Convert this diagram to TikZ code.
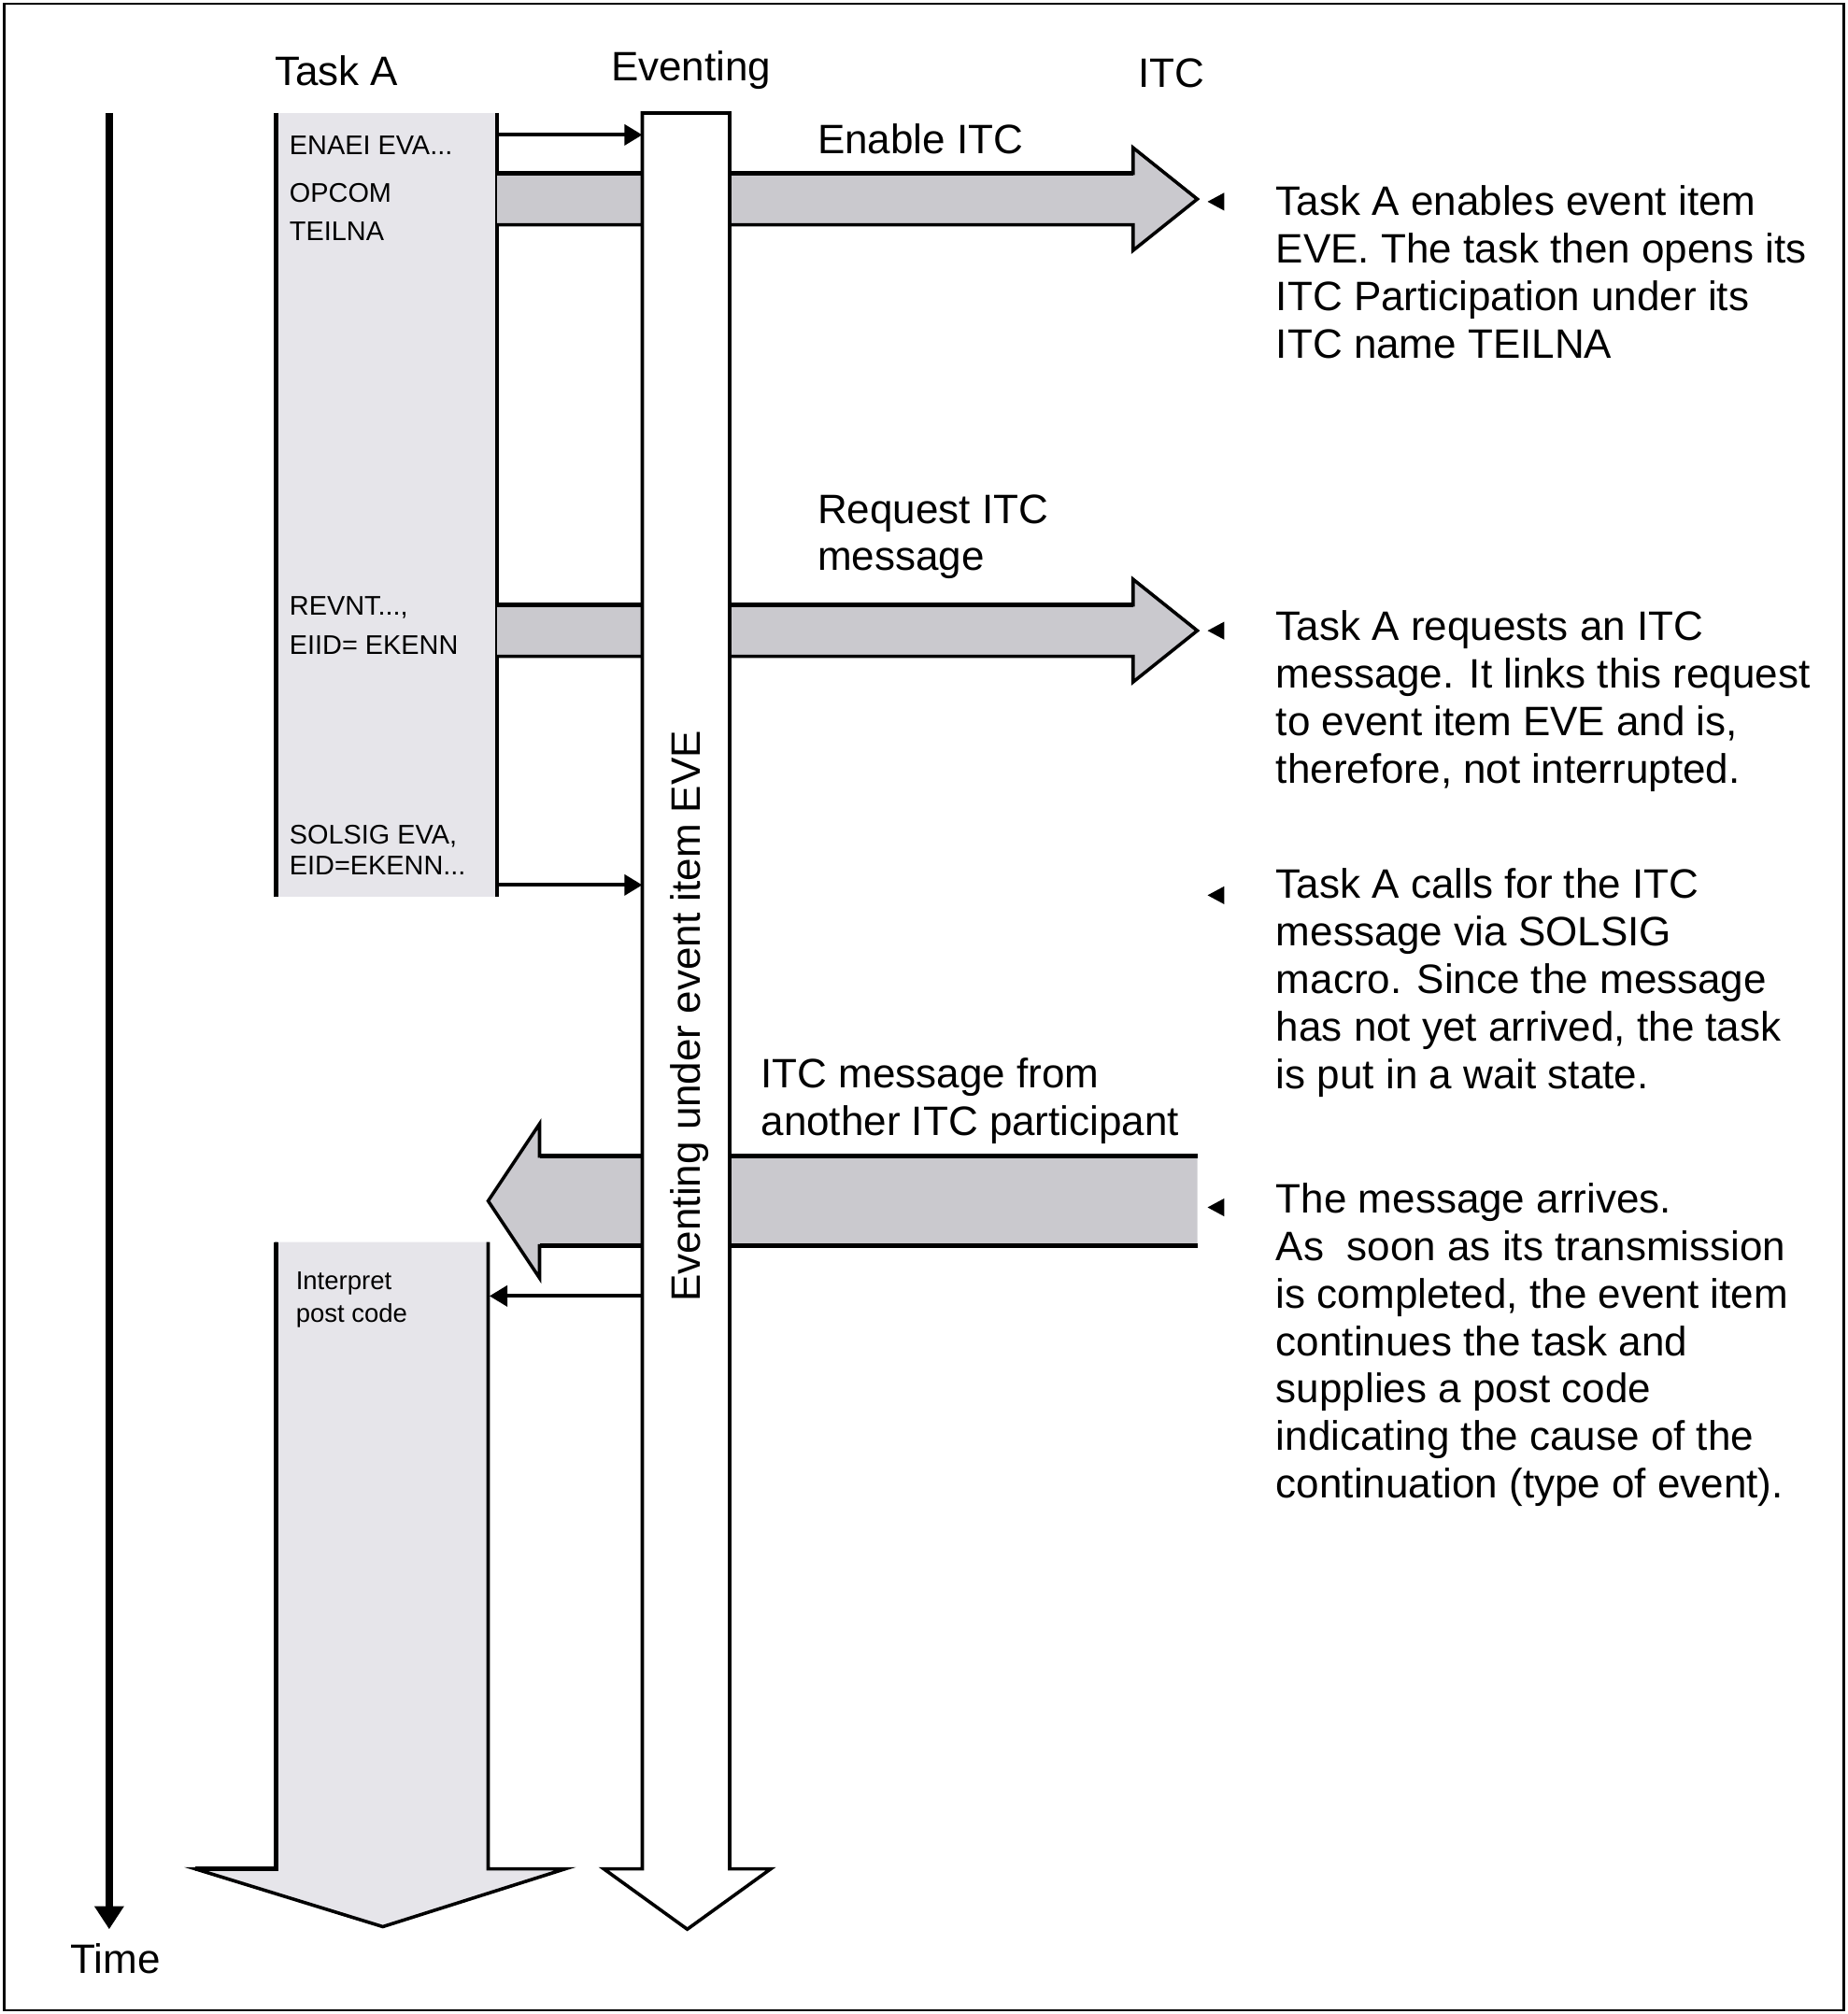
\documentclass[tikz,border=0pt]{standalone}
\usepackage{fontspec}
\setmainfont{Liberation Sans}
\usetikzlibrary{arrows.meta}
\definecolor{bandgray}{RGB}{202,201,206}
\definecolor{taskgray}{RGB}{230,229,234}

\begin{document}
\begin{tikzpicture}[x=0.5pt,y=-0.5pt,line join=miter,
  lbl/.style={font=\fontsize{16}{18.5}\selectfont,inner sep=0pt},
  note/.style={lbl,anchor=west,align=left},
  cmd/.style={font=\fontsize{10.5}{15}\selectfont,inner sep=0pt,anchor=west,align=left},
  edge/.style={line width=1.3pt},
  call/.style={line width=1.5pt,-{Triangle[length=7pt,width=8pt]}}]
  \useasboundingbox (0,0) rectangle (1438,1568);
  \draw[line width=1pt] (3,3) rectangle (1435,1565);
  \coordinate (t0) at (85,88); \coordinate (t1) at (85,1502);
  \coordinate (aR1) at (387,105); \coordinate (eL1) at (500,105);
  \coordinate (aR2) at (387,689); \coordinate (eL2) at (500,689);
  \coordinate (eL3) at (500,1009); \coordinate (bR3) at (381,1009);
  \fill[taskgray] (215,88) rectangle (387,698);
  \draw[line width=1.6pt] (215,88) -- (215,698) (387,88) -- (387,698);
  \foreach \y in {155,491}{
    \filldraw[edge,fill=bandgray] (387,\y-20) -- (882,\y-20) -- (882,\y-40) -- (932,\y) -- (882,\y+40) -- (882,\y+20) -- (387,\y+20);
    \draw[line width=1.8pt] (387,\y-20) -- (882,\y-20);}
  \filldraw[edge,fill=bandgray] (932,900) -- (420,900) -- (420,875) -- (380,935) -- (420,995) -- (420,970) -- (932,970);
  \draw[line width=1.8pt] (932,900) -- (420,900) (932,970) -- (420,970);
  \filldraw[edge,fill=white] (500,1455) -- (500,88) -- (568,88) -- (568,1455) -- (600,1455) -- (535,1502) -- (470,1455) -- cycle;
  \filldraw[edge,fill=taskgray] (380,967) -- (380,1455) -- (440,1455) -- (298,1500) -- (152,1455) -- (215,1455) -- (215,967);
  \draw[line width=1.8pt] (215,967) -- (215,1455) -- (152,1455);
  \draw[call] (aR1) -- (eL1); \draw[call] (aR2) -- (eL2); \draw[call] (eL3) -- (bR3);
  \draw[line width=3pt,-{Triangle[length=9pt,width=11pt]}] (t0) -- (t1);
  \foreach \y in {157,491,697,940}{\fill (940,\y) -- (953,\y-7) -- (953,\y+7) -- cycle;}
  \node[lbl] (hdA) at (262,55) {Task A};
  \node[lbl] (hdE) at (538,55) {Eventing};
  \node[lbl] (hdI) at (912,57) {ITC};
  \node[lbl] (time) at (90,1525) {Time};
  \node[lbl,rotate=90] (evlbl) at (537,791) {Eventing under event item EVE};
  \node[note] (enable) at (636,108) {Enable ITC};
  \node[note] (request) at (636,418) {Request ITC\\message};
  \node[note] (incoming) at (592,857) {ITC message from\\another ITC participant};
  \node[cmd] (c1) at (225,113) {ENAEI EVA...};
  \node[cmd] (c2) at (225,165) {OPCOM\\TEILNA};
  \node[cmd,font=\fontsize{10.5}{15.5}\selectfont] (c3) at (225,487) {REVNT...,\\EIID= EKENN};
  \node[cmd,font=\fontsize{10.5}{12}\selectfont] (c4) at (225,662) {SOLSIG EVA,\\EID=EKENN...};
  \node[cmd,font=\fontsize{10}{12.5}\selectfont] (c5) at (230,1012) {Interpret\\post code};
  \node[note] (noteA) at (993,212) {Task A enables event item\\EVE. The task then opens its\\ITC Participation under its\\ITC name TEILNA};
  \node[note] (noteB) at (993,546) {Task A requests an ITC\\message. It links this request\\to event item EVE and is,\\therefore, not interrupted.};
  \node[note] (noteC) at (993,765) {Task A calls for the ITC\\message via SOLSIG\\macro. Since the message\\has not yet arrived, the task\\is put in a wait state.};
  \node[note] (noteD) at (993,1047) {The message arrives.\\As\ \ soon as its transmission\\is completed, the event item\\continues the task and\\supplies a post code\\indicating the cause of the\\continuation (type of event).};
\end{tikzpicture}
\end{document}
